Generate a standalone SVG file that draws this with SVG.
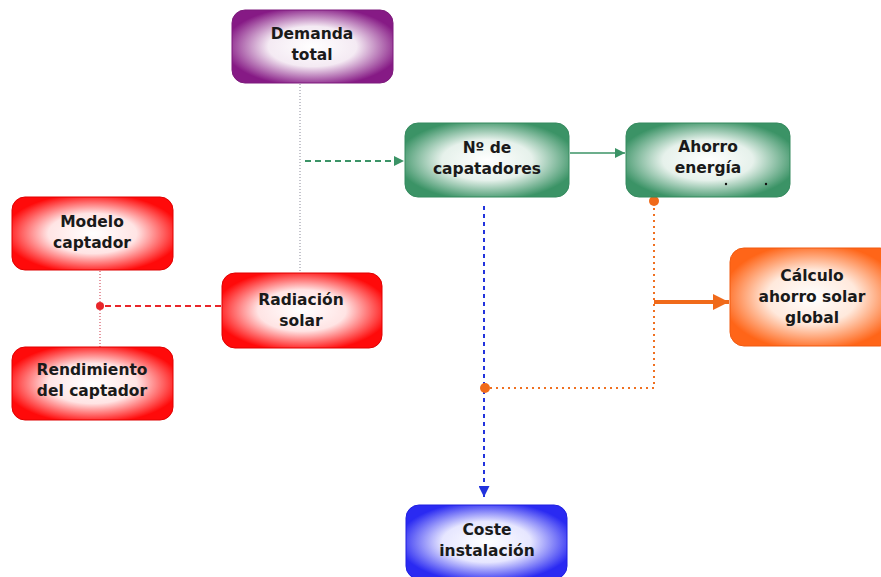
<svg xmlns="http://www.w3.org/2000/svg" width="881" height="577" viewBox="0 0 881 577">
<defs>
<radialGradient id="gPurple" cx="50%" cy="50%" r="55%"><stop offset="0%" stop-color="#ffffff"/><stop offset="50%" stop-color="#f4eaf3"/><stop offset="100%" stop-color="#861a85"/></radialGradient>
<radialGradient id="gGreen" cx="50%" cy="50%" r="55%"><stop offset="0%" stop-color="#ffffff"/><stop offset="50%" stop-color="#e6f1eb"/><stop offset="100%" stop-color="#3b9366"/></radialGradient>
<radialGradient id="gRed" cx="50%" cy="50%" r="55%"><stop offset="0%" stop-color="#ffffff"/><stop offset="50%" stop-color="#ffe4e4"/><stop offset="100%" stop-color="#ff0a0a"/></radialGradient>
<radialGradient id="gOrange" cx="50%" cy="50%" r="55%"><stop offset="0%" stop-color="#ffffff"/><stop offset="50%" stop-color="#ffe9dc"/><stop offset="100%" stop-color="#ff6518"/></radialGradient>
<radialGradient id="gBlue" cx="50%" cy="50%" r="55%"><stop offset="0%" stop-color="#ffffff"/><stop offset="50%" stop-color="#e6e6ff"/><stop offset="100%" stop-color="#2a2af2"/></radialGradient>
<marker id="aGreen" viewBox="0 0 10 10" refX="10" refY="5" markerWidth="10" markerHeight="10" orient="auto" markerUnits="userSpaceOnUse"><path d="M0,0 L10,5 L0,10 z" fill="#3b9366"/></marker>
<marker id="aBlue" viewBox="0 0 10 10" refX="10" refY="5" markerWidth="11" markerHeight="11" orient="auto" markerUnits="userSpaceOnUse"><path d="M0,0 L10,5 L0,10 z" fill="#2233dd"/></marker>
<marker id="aOrange" viewBox="0 0 10 10" refX="10" refY="5" markerWidth="16" markerHeight="16" orient="auto" markerUnits="userSpaceOnUse"><path d="M0,0 L10,5 L0,10 z" fill="#f06a1a"/></marker>
</defs>
<style>
.box{stroke-width:1}
text{font-family:"DejaVu Sans","Verdana",sans-serif;font-weight:bold;font-size:15.5px;fill:#1a1a1a;text-anchor:middle}
</style>
<rect width="881" height="577" fill="#ffffff"/>
<g id="connectors" fill="none">
<line x1="300" y1="84" x2="300" y2="272" stroke="#8a8a9a" stroke-width="1" stroke-dasharray="1,2"/>
<line x1="305" y1="161" x2="404" y2="161" stroke="#3b9366" stroke-width="2" stroke-dasharray="6,4" marker-end="url(#aGreen)"/>
<line x1="570" y1="153" x2="625" y2="153" stroke="#3b9366" stroke-width="1.6" marker-end="url(#aGreen)"/>
<line x1="484" y1="206" x2="484" y2="497" stroke="#2233dd" stroke-width="2" stroke-dasharray="4,4" marker-end="url(#aBlue)"/>
<polyline points="654,202 654,388 485,388" stroke="#f07020" stroke-width="2" stroke-dasharray="2,4"/>
<circle cx="654" cy="201" r="5" fill="#f06a1a"/>
<circle cx="485" cy="388" r="5" fill="#f06a1a"/>
<line x1="654" y1="302" x2="729" y2="302" stroke="#f06a1a" stroke-width="4" marker-end="url(#aOrange)"/>
<line x1="221" y1="306" x2="100" y2="306" stroke="#e8262a" stroke-width="2" stroke-dasharray="6,4"/>
<line x1="100" y1="271" x2="100" y2="347" stroke="#cc3344" stroke-width="1" stroke-dasharray="1,2"/>
<circle cx="100" cy="306" r="4" fill="#e8262a"/>
</g>
<g id="demanda">
<rect x="232" y="10" width="161" height="73" rx="13" fill="url(#gPurple)" stroke="#7d1a7c" class="box"/>
<text x="312" y="39">Demanda</text><text x="312" y="60">total</text>
</g>
<g id="capatadores">
<rect x="405" y="123" width="164" height="74" rx="13" fill="url(#gGreen)" stroke="#358a5e" class="box"/>
<text x="487" y="153">Nº de</text><text x="487" y="174">capatadores</text>
</g>
<g id="ahorro">
<rect x="626" y="123" width="164" height="74" rx="13" fill="url(#gGreen)" stroke="#358a5e" class="box"/>
<text x="708" y="152">Ahorro</text><text x="708" y="173">energía</text>
<circle cx="726" cy="184" r="1.2" fill="#111"/><circle cx="766" cy="184" r="1.2" fill="#111"/>
</g>
<g id="modelo">
<rect x="12" y="197" width="161" height="73" rx="13" fill="url(#gRed)" stroke="#e00000" class="box"/>
<text x="92" y="227">Modelo</text><text x="92" y="248">captador</text>
</g>
<g id="radiacion">
<rect x="222" y="273" width="160" height="75" rx="13" fill="url(#gRed)" stroke="#e00000" class="box"/>
<text x="301" y="305">Radiación</text><text x="301" y="326">solar</text>
</g>
<g id="rendimiento">
<rect x="12" y="347" width="161" height="73" rx="13" fill="url(#gRed)" stroke="#e00000" class="box"/>
<text x="92" y="375">Rendimiento</text><text x="92" y="396">del captador</text>
</g>
<g id="calculo">
<rect x="730" y="248" width="164" height="98" rx="14" fill="url(#gOrange)" stroke="#f05a10" class="box"/>
<text x="812" y="281">Cálculo</text><text x="812" y="302">ahorro solar</text><text x="812" y="323">global</text>
</g>
<g id="coste">
<rect x="406" y="505" width="161" height="74" rx="13" fill="url(#gBlue)" stroke="#1f1fe0" class="box"/>
<text x="487" y="535">Coste</text><text x="487" y="556">instalación</text>
</g>
</svg>
